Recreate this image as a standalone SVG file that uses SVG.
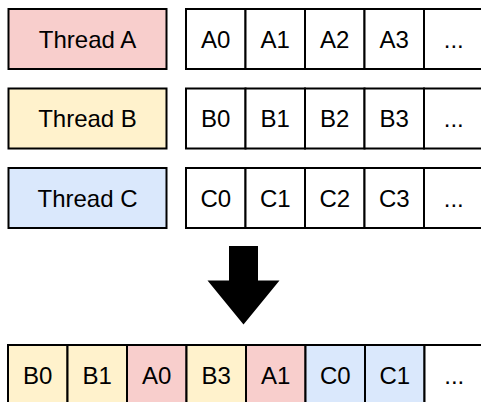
<svg xmlns="http://www.w3.org/2000/svg" width="481" height="402" viewBox="0 0 481 402">
<style>
.c{stroke:#000;stroke-width:2}
.r{fill:#f8cecc}.y{fill:#fff2cc}.b{fill:#dae8fc}.w{fill:#fff}
text{font-family:"Liberation Sans",Arial,sans-serif;font-size:24px;fill:#000;text-anchor:middle}
</style>
<rect width="481" height="402" fill="#fff"/>
<g id="threadA"><rect class="c r" x="8.5" y="9" width="158" height="60"/><text x="87.5" y="47.6">Thread A</text></g>
<g id="threadB"><rect class="c y" x="8.5" y="88.5" width="158" height="60"/><text x="87.5" y="127.1">Thread B</text></g>
<g id="threadC"><rect class="c b" x="8.5" y="168" width="158" height="60"/><text x="87.5" y="206.6">Thread C</text></g>
<g id="rowA">
<rect class="c w" x="186" y="9" width="59.5" height="60"/><text x="215.75" y="47.6">A0</text>
<rect class="c w" x="245.5" y="9" width="59.5" height="60"/><text x="275.25" y="47.6">A1</text>
<rect class="c w" x="305" y="9" width="59.5" height="60"/><text x="334.75" y="47.6">A2</text>
<rect class="c w" x="364.5" y="9" width="59.5" height="60"/><text x="394.25" y="47.6">A3</text>
<rect class="c w" x="424" y="9" width="59.5" height="60"/><text x="453.75" y="47.6">...</text>
</g>
<g id="rowB">
<rect class="c w" x="186" y="88.5" width="59.5" height="60"/><text x="215.75" y="127.1">B0</text>
<rect class="c w" x="245.5" y="88.5" width="59.5" height="60"/><text x="275.25" y="127.1">B1</text>
<rect class="c w" x="305" y="88.5" width="59.5" height="60"/><text x="334.75" y="127.1">B2</text>
<rect class="c w" x="364.5" y="88.5" width="59.5" height="60"/><text x="394.25" y="127.1">B3</text>
<rect class="c w" x="424" y="88.5" width="59.5" height="60"/><text x="453.75" y="127.1">...</text>
</g>
<g id="rowC">
<rect class="c w" x="186" y="168" width="59.5" height="60"/><text x="215.75" y="206.6">C0</text>
<rect class="c w" x="245.5" y="168" width="59.5" height="60"/><text x="275.25" y="206.6">C1</text>
<rect class="c w" x="305" y="168" width="59.5" height="60"/><text x="334.75" y="206.6">C2</text>
<rect class="c w" x="364.5" y="168" width="59.5" height="60"/><text x="394.25" y="206.6">C3</text>
<rect class="c w" x="424" y="168" width="59.5" height="60"/><text x="453.75" y="206.6">...</text>
</g>
<g id="connectors">
<polygon id="arrow" points="229,246 258,246 258,280.5 279.5,280.5 243.5,324.5 207.5,280.5 229,280.5" fill="#000"/>
</g>
<g id="merged">
<rect class="c y" x="8" y="345" width="59.5" height="60"/><text x="37.75" y="383.6">B0</text>
<rect class="c y" x="67.5" y="345" width="59.5" height="60"/><text x="97.25" y="383.6">B1</text>
<rect class="c r" x="127" y="345" width="59.5" height="60"/><text x="156.75" y="383.6">A0</text>
<rect class="c y" x="186.5" y="345" width="59.5" height="60"/><text x="216.25" y="383.6">B3</text>
<rect class="c r" x="246" y="345" width="59.5" height="60"/><text x="275.75" y="383.6">A1</text>
<rect class="c b" x="305.5" y="345" width="59.5" height="60"/><text x="335.25" y="383.6">C0</text>
<rect class="c b" x="365" y="345" width="59.5" height="60"/><text x="394.75" y="383.6">C1</text>
<rect class="c w" x="424.5" y="345" width="59.5" height="60"/><text x="454.25" y="383.6">...</text>
</g>
</svg>
